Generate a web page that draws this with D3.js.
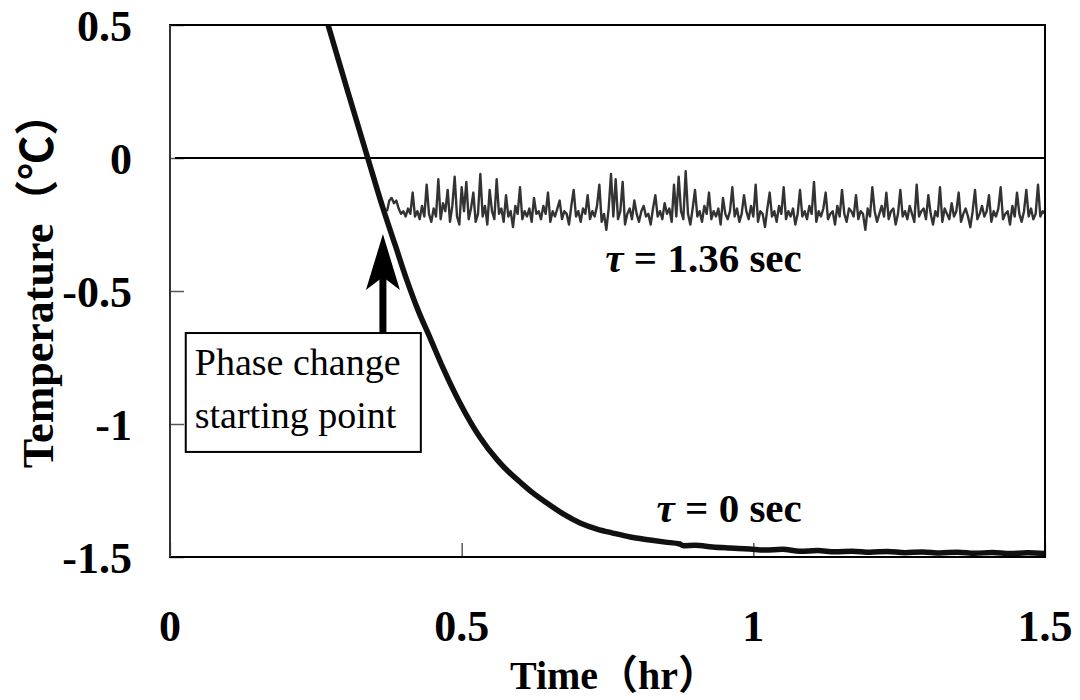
<!DOCTYPE html>
<html>
<head>
<meta charset="utf-8">
<script src="https://cdn.jsdelivr.net/npm/d3@7"></script>
<style>
  body { margin: 0; background: #fff; }
  text { font-family: "Liberation Serif", "Times New Roman", "Noto Sans CJK JP", serif; }
</style>
</head>
<body>
<div id="chart"></div>
<script>
// tick labels
const xTicks = [0, 0.5, 1, 1.5]
const yTicks = [0.5, 0, -0.5, -1, -1.5]

// tau = 0 sec (time in hr, temperature in C)
const tau0Time = [0.271, 0.305, 0.339, 0.365, 0.386, 0.406, 0.425, 0.446, 0.468, 0.497,
    0.531, 0.561, 0.579, 0.600, 0.622, 0.646, 0.674, 0.703, 0.732, 0.759,
    0.789, 0.823, 0.849, 0.874, 0.880, 0.900, 0.930, 0.960, 0.994, 1.02,
    1.05, 1.08, 1.11, 1.14, 1.17, 1.20, 1.23, 1.26, 1.29, 1.32,
    1.35, 1.38, 1.41, 1.44, 1.47, 1.50]
const tau0Temp = [0.5, 0.248, 0, -0.188, -0.327, -0.459, -0.571, -0.677, -0.789, -0.921,
    -1.049, -1.135, -1.177, -1.218, -1.259, -1.297, -1.338, -1.372, -1.395, -1.410,
    -1.425, -1.436, -1.444, -1.451, -1.458, -1.456, -1.462, -1.466, -1.470, -1.474,
    -1.471, -1.478, -1.476, -1.480, -1.478, -1.482, -1.479, -1.484, -1.481, -1.485,
    -1.482, -1.486, -1.483, -1.487, -1.484, -1.487]

// tau = 1.36 sec, logged every 0.004 hr from 0.372 hr
const tau136Start = 0.372
const tau136Step = 0.004
const tau136Temp = [
    -0.20,-0.16,-0.15,-0.17,-0.16,-0.19,-0.21,-0.20,-0.22,-0.19,-0.21,-0.13,-0.22,-0.20,-0.23,-0.18,-0.22,-0.10,-0.21,-0.24,
    -0.19,-0.22,-0.08,-0.23,-0.17,-0.20,-0.12,-0.24,-0.18,-0.07,-0.22,-0.25,-0.11,-0.20,-0.09,-0.23,-0.19,-0.13,-0.24,-0.21,
    -0.06,-0.22,-0.18,-0.25,-0.12,-0.20,-0.23,-0.08,-0.21,-0.19,-0.24,-0.14,-0.22,-0.20,-0.26,-0.18,-0.21,-0.11,-0.23,-0.20,
    -0.22,-0.19,-0.24,-0.15,-0.21,-0.20,-0.23,-0.18,-0.21,-0.13,-0.24,-0.20,-0.22,-0.19,-0.16,-0.23,-0.20,-0.21,-0.25,-0.18,
    -0.12,-0.22,-0.20,-0.24,-0.19,-0.21,-0.14,-0.23,-0.20,-0.22,-0.18,-0.10,-0.24,-0.21,-0.27,-0.19,-0.06,-0.22,-0.08,-0.23,
    -0.20,-0.09,-0.25,-0.21,-0.19,-0.23,-0.16,-0.21,-0.24,-0.20,-0.18,-0.22,-0.21,-0.25,-0.19,-0.14,-0.22,-0.20,-0.23,-0.17,
    -0.21,-0.19,-0.24,-0.10,-0.22,-0.07,-0.20,-0.23,-0.05,-0.21,-0.25,-0.19,-0.12,-0.22,-0.20,-0.24,-0.18,-0.21,-0.13,-0.23,
    -0.20,-0.22,-0.19,-0.25,-0.15,-0.21,-0.23,-0.20,-0.11,-0.22,-0.19,-0.24,-0.21,-0.14,-0.20,-0.23,-0.18,-0.22,-0.10,-0.24,
    -0.20,-0.21,-0.26,-0.19,-0.13,-0.22,-0.20,-0.24,-0.18,-0.21,-0.11,-0.23,-0.20,-0.22,-0.19,-0.25,-0.21,-0.12,-0.22,-0.20,
    -0.23,-0.18,-0.21,-0.09,-0.24,-0.20,-0.22,-0.19,-0.13,-0.23,-0.21,-0.20,-0.25,-0.18,-0.22,-0.12,-0.21,-0.24,-0.19,-0.20,
    -0.22,-0.14,-0.23,-0.20,-0.21,-0.27,-0.19,-0.22,-0.11,-0.20,-0.24,-0.21,-0.18,-0.22,-0.13,-0.23,-0.20,-0.19,-0.25,-0.21,
    -0.12,-0.22,-0.20,-0.23,-0.18,-0.21,-0.24,-0.10,-0.22,-0.20,-0.19,-0.23,-0.14,-0.21,-0.25,-0.20,-0.22,-0.11,-0.24,-0.19,
    -0.21,-0.23,-0.17,-0.22,-0.20,-0.13,-0.24,-0.21,-0.19,-0.22,-0.26,-0.20,-0.12,-0.23,-0.21,-0.18,-0.22,-0.20,-0.14,-0.24,
    -0.20,-0.22,-0.19,-0.11,-0.23,-0.21,-0.20,-0.25,-0.18,-0.22,-0.13,-0.21,-0.24,-0.20,-0.12,-0.22,-0.19,-0.23,-0.21,-0.10,
    -0.22,-0.20,-0.21]

// annotation
const arrowTime = 0.365
const arrowTipTemp = -0.286
const boxTop = -0.658
const boxBottom = -1.105
const boxLeft = 0.027
const boxRight = 0.430
const boxLines = ["Phase change", "starting point"]

function drawChart() {
    // Build data
    const tau0 = tau0Time.map((t, i) => ({ time: t, temp: tau0Temp[i] }))
    const tau136 = tau136Temp.map((v, i) => ({ time: tau136Start + i * tau136Step, temp: v }))

    const xAccessor = d => d.time
    const yAccessor = d => d.temp

    // Set dimensions
    const dimensions = {
        width: 1080,
        height: 700,
        margins: { top: 25, right: 35, bottom: 143, left: 170 }
    }
    dimensions.boundedWidth = dimensions.width - dimensions.margins.left - dimensions.margins.right
    dimensions.boundedHeight = dimensions.height - dimensions.margins.top - dimensions.margins.bottom

    const wrapper = d3.select("#chart").append("svg")
        .attr("width", dimensions.width)
        .attr("height", dimensions.height)

    const bounds = wrapper.append("g")
        .attr("transform", `translate(${dimensions.margins.left},${dimensions.margins.top})`)

    // Scales
    const xScale = d3.scaleLinear()
        .domain([0, 1.5])
        .range([0, dimensions.boundedWidth])
    const yScale = d3.scaleLinear()
        .domain([-1.5, 0.5])
        .range([dimensions.boundedHeight, 0])

    bounds.append("clipPath").attr("id", "plot-clip")
        .append("rect")
        .attr("width", dimensions.boundedWidth)
        .attr("height", dimensions.boundedHeight)

    // Inner ticks
    const yAxis = bounds.append("g")
        .call(d3.axisRight(yScale).tickValues(yTicks).tickSize(14).tickFormat(""))
    yAxis.select(".domain").remove()
    yAxis.selectAll("line").attr("stroke", "#555").attr("stroke-width", 1.5)

    const xAxis = bounds.append("g")
        .attr("transform", `translate(0,${dimensions.boundedHeight})`)
        .call(d3.axisTop(xScale).tickValues(xTicks).tickSize(14).tickFormat(""))
    xAxis.select(".domain").remove()
    xAxis.selectAll("line").attr("stroke", "#333").attr("stroke-width", 1.2)

    // Zero line
    bounds.append("line")
        .attr("x1", 5)
        .attr("x2", dimensions.boundedWidth)
        .attr("y1", yScale(0))
        .attr("y2", yScale(0))
        .attr("stroke", "#000")
        .attr("stroke-width", 2)

    // Lines
    const lineGenerator = d3.line()
        .x(d => xScale(xAccessor(d)))
        .y(d => yScale(yAccessor(d)))

    bounds.append("path")
        .attr("d", lineGenerator(tau136))
        .attr("clip-path", "url(#plot-clip)")
        .attr("fill", "none")
        .attr("stroke", "#333")
        .attr("stroke-width", 2.4)
        .attr("stroke-linejoin", "round")

    bounds.append("path")
        .attr("d", lineGenerator.curve(d3.curveMonotoneX)(tau0))
        .attr("clip-path", "url(#plot-clip)")
        .attr("fill", "none")
        .attr("stroke", "#111")
        .attr("stroke-width", 5.5)

    // Frame
    bounds.append("rect")
        .attr("width", dimensions.boundedWidth)
        .attr("height", dimensions.boundedHeight)
        .attr("fill", "none")
        .attr("stroke", "#000")
        .attr("stroke-width", 2)
    bounds.append("line")
        .attr("x1", 0).attr("x2", 0)
        .attr("y1", 0).attr("y2", dimensions.boundedHeight)
        .attr("stroke", "#333").attr("stroke-width", 2)

    // Tick labels
    bounds.selectAll(".ylab").data(yTicks).join("text")
        .attr("x", -38)
        .attr("y", d => yScale(d) + 16)
        .attr("text-anchor", "end")
        .attr("font-size", 44)
        .attr("font-weight", "bold")
        .text(d => d)

    bounds.selectAll(".xlab").data(xTicks).join("text")
        .attr("x", d => xScale(d))
        .attr("y", dimensions.boundedHeight + 84)
        .attr("text-anchor", "middle")
        .attr("font-size", 44)
        .attr("font-weight", "bold")
        .text(d => d)

    // Axis titles
    wrapper.append("text")
        .attr("x", 614)
        .attr("y", 689)
        .attr("text-anchor", "middle")
        .attr("font-size", 40)
        .attr("font-weight", "bold")
        .text("Time（hr）")

    wrapper.append("text")
        .attr("transform", "translate(53,280) rotate(-90)")
        .attr("text-anchor", "middle")
        .attr("font-size", 44)
        .attr("font-weight", "bold")
        .text("Temperature（℃）")

    // Series labels
    const tauLabel = (x, y, rest) => {
        const t = bounds.append("text")
            .attr("x", x)
            .attr("y", y)
            .attr("text-anchor", "end")
            .attr("font-size", 41)
            .attr("font-weight", "bold")
        t.append("tspan").attr("font-style", "italic").text("τ")
        t.append("tspan").text(rest)
    }
    tauLabel(xScale(1.083), yScale(-0.43), " = 1.36 sec")
    tauLabel(xScale(1.083), yScale(-1.368), " = 0 sec")

    // Arrow
    const ax = xScale(arrowTime)
    const tipY = yScale(arrowTipTemp)
    const baseY = yScale(boxTop)
    bounds.append("rect")
        .attr("x", ax - 3.5)
        .attr("y", tipY + 40)
        .attr("width", 7)
        .attr("height", baseY - tipY - 40)
        .attr("fill", "#000")
    bounds.append("path")
        .attr("d", `M${ax},${tipY} L${ax + 17},${tipY + 56} L${ax},${tipY + 43} L${ax - 17},${tipY + 56} Z`)
        .attr("fill", "#000")

    // Annotation box
    bounds.append("rect")
        .attr("x", xScale(boxLeft))
        .attr("y", yScale(boxTop))
        .attr("width", xScale(boxRight) - xScale(boxLeft))
        .attr("height", yScale(boxBottom) - yScale(boxTop))
        .attr("fill", "#fff")
        .attr("stroke", "#000")
        .attr("stroke-width", 2)

    bounds.selectAll(".boxline").data(boxLines).join("text")
        .attr("x", xScale(boxLeft) + 9)
        .attr("y", (d, i) => yScale(boxTop) + 42 + i * 53)
        .attr("font-size", 38)
        .text(d => d)
}

drawChart()
</script>
</body>
</html>
